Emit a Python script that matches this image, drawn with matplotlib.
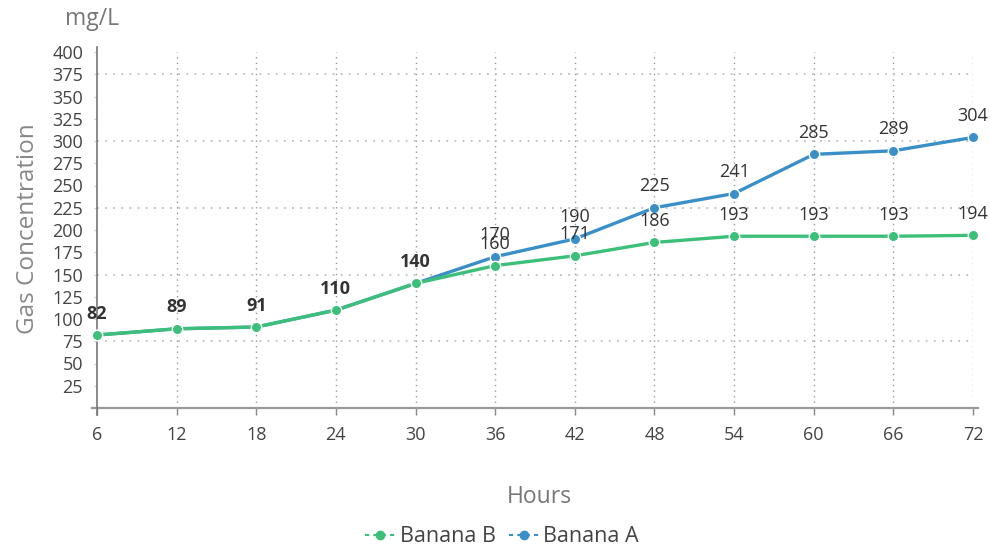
import matplotlib
matplotlib.use("Agg")
import matplotlib.pyplot as plt
from matplotlib.lines import Line2D

plt.rcParams['font.family'] = ['Open Sans', 'DejaVu Sans']

hours = [6, 12, 18, 24, 30, 36, 42, 48, 54, 60, 66, 72]
banana_b = [82, 89, 91, 110, 140, 160, 171, 186, 193, 193, 193, 194]
banana_a = [82, 89, 91, 110, 140, 170, 190, 225, 241, 285, 289, 304]
y_ticks = list(range(25, 401, 25))
grid_y = [75, 150, 225, 300, 375]

green = '#3cc079'
blue = '#3b8fc9'

fig = plt.figure(figsize=(9.9, 5.49), dpi=100)
ax = fig.add_axes([97 / 990, 1 - 408 / 549, (973 - 97) / 990, (408 - 52) / 549])
ax.set_xlim(6, 72)
ax.set_ylim(0, 400)

# grid: dotted verticals at each hour, dotted horizontals every 75
for x in hours[1:]:
    ax.axvline(x, color='#9a9a9a', lw=1.0, ls=(0, (1, 3)), zorder=0)
for y in grid_y:
    ax.axhline(y, color='#bdbdbd', lw=1.3, ls=(0, (1, 3.5)), zorder=0)

# Banana A first so Banana B sits on top where they coincide
for vals, col in ((banana_a, blue), (banana_b, green)):
    ax.plot(hours, vals, color=col, lw=2.4, marker='o', ms=7.5,
            mec='white', mew=1.0, zorder=3, clip_on=False)

# value labels for both series; shared values print heavier
for x, a, b in zip(hours, banana_a, banana_b):
    if a == b:
        items = [(a, 'bold')]
    else:
        items = [(a, 'normal'), (b, 'normal')]
    for v, w in items:
        ax.annotate(str(v), (x, v), xytext=(0, 9), textcoords='offset points',
                    ha='center', va='bottom', fontsize=13, color='#333333',
                    fontweight=w, zorder=4, annotation_clip=False)

for s in ('top', 'right', 'left', 'bottom'):
    ax.spines[s].set_visible(False)
# axis lines, slightly overshooting the plotting area
ax.plot([-0.006, 1.006], [0, 0], transform=ax.transAxes, color='#999999',
        lw=1.6, clip_on=False, zorder=2)
ax.plot([0, 0], [-0.02, 1.015], transform=ax.transAxes, color='#777777',
        lw=1.2, clip_on=False, zorder=2)

ax.set_xticks(hours)
ax.set_yticks(y_ticks)
ax.tick_params(axis='y', length=2, width=1, color='#cccccc', pad=8,
               labelsize=13, labelcolor='#444444')
ax.tick_params(axis='x', length=5, width=1, color='#888888', pad=8,
               labelsize=13, labelcolor='#444444')

fig.text(0.066, 0.965, 'mg/L', fontsize=16.5, color='#777777', ha='left', va='center')
fig.text(0.028, 0.583, 'Gas Concentration', fontsize=17.5, color='#888888',
         rotation=90, ha='center', va='center')
fig.text(0.545, 0.094, 'Hours', fontsize=16.5, color='#777777', ha='center', va='center')

handles = [
    Line2D([], [], color=green, lw=1.5, ls=(0, (2, 2)), marker='o', ms=6, mec=green),
    Line2D([], [], color=blue, lw=1.5, ls=(0, (2, 2)), marker='o', ms=6, mec=blue),
]
fig.legend(handles, ['Banana B', 'Banana A'], loc='center', bbox_to_anchor=(0.507, 0.022),
           ncol=2, frameon=False, fontsize=15.5, handlelength=1.4, handletextpad=0.2,
           columnspacing=0.6, labelcolor='#444444')

fig.savefig('out.png', dpi=100, facecolor='white')
